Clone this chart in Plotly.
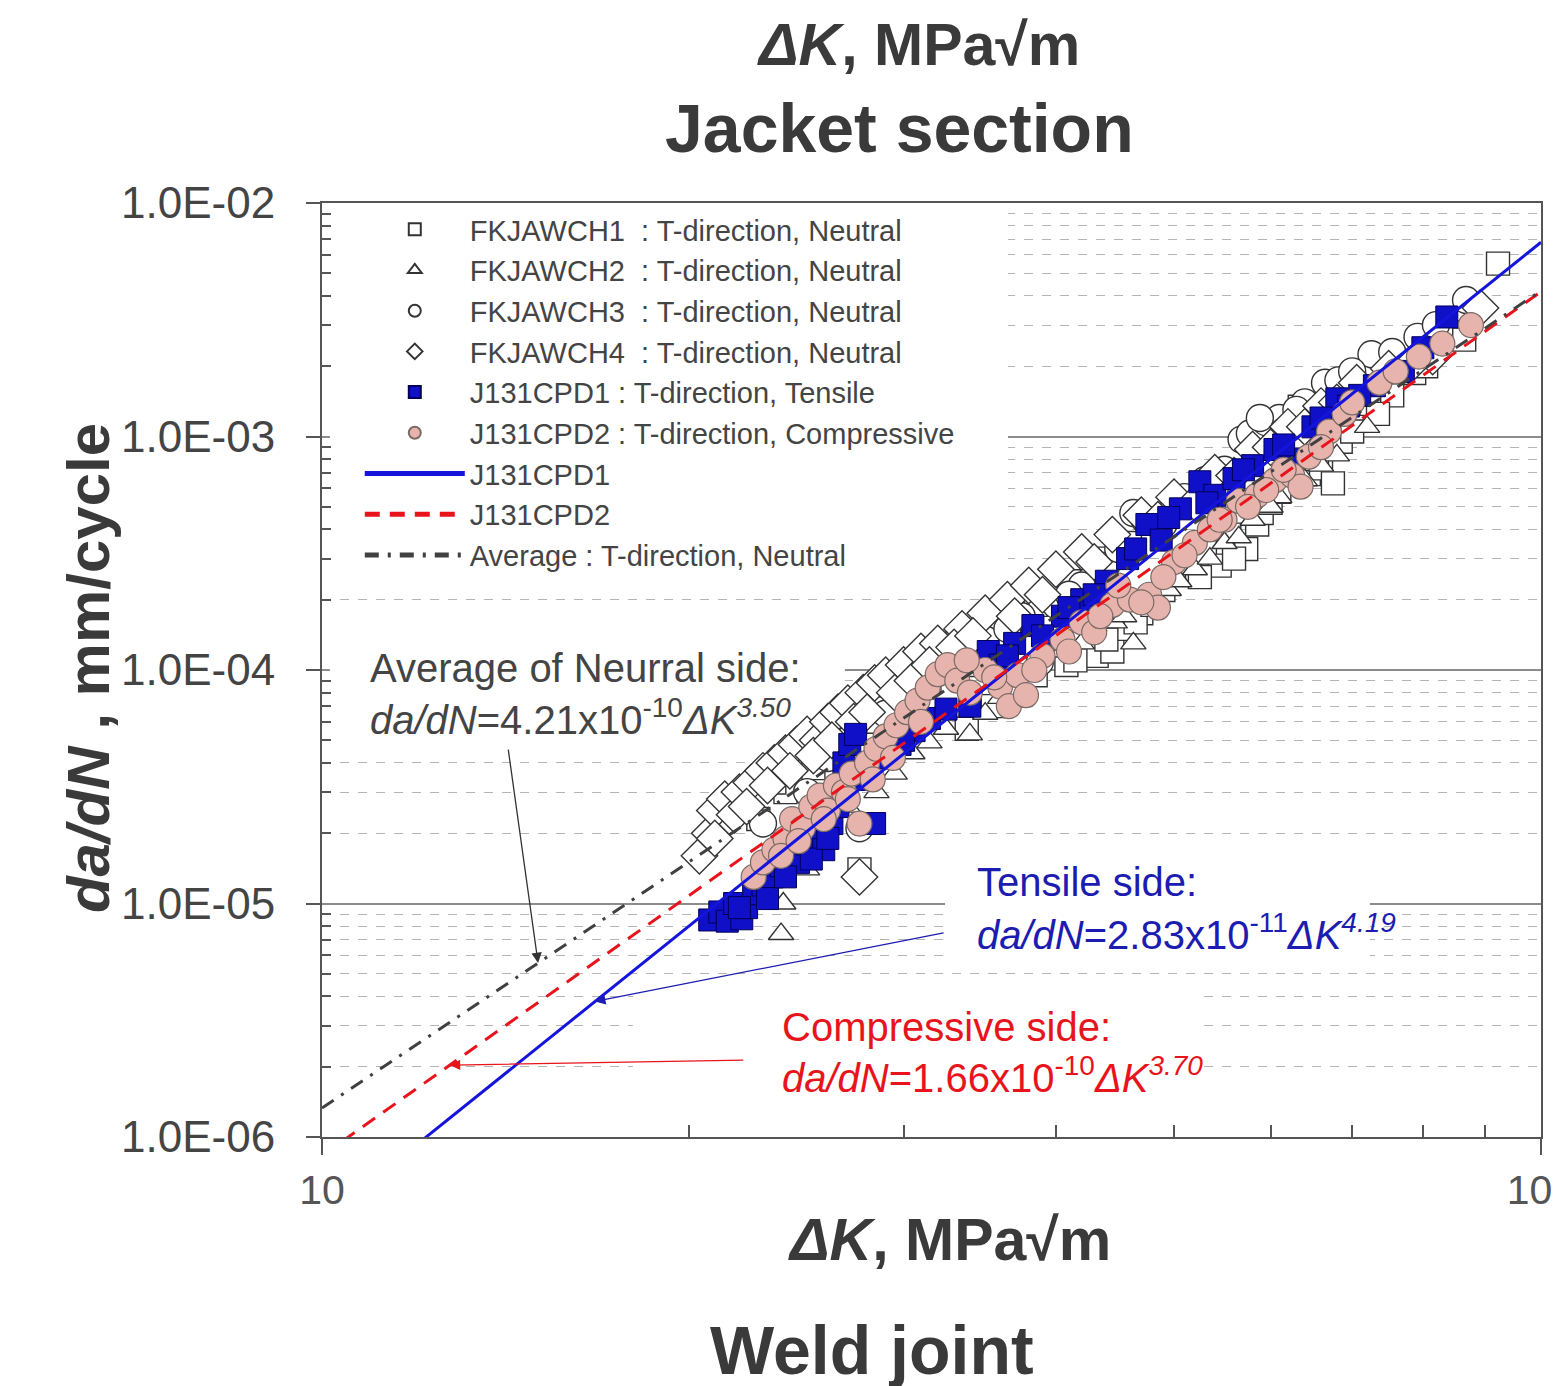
import math
import plotly.graph_objects as go

# --- data (ΔK in MPa√m, da/dN in mm/cycle) ---
fk1_dk = [22.8, 24.0, 25.3, 26.5, 27.6, 28.6, 30.0, 31.5, 33.2, 33.8, 34.5, 36.0, 37.5, 39.8, 40.8,
          42.2, 43.2, 44.5, 45.5, 47.0, 49.0, 50.0, 51.5, 53.0, 54.5, 55.5, 57.3, 58.5, 59.0, 60.0,
          63.4, 64.5, 66.0, 67.5, 68.5, 72.6, 75.5, 78.7, 83.7, 92.2,
          35.5, 37.0, 38.5, 41.5, 44.0, 46.5, 48.0, 52.5, 56.0, 61.0, 65.5, 70.0, 73.5, 80.5, 86.5,
          23.5, 26.0, 29.0, 32.0, 35.0, 38.5, 41.0, 43.5, 46.0]
fk1_dadn = [2.3e-5, 3.0e-5, 3.8e-5, 4.6e-5, 1.4e-5, 6.0e-5, 7.5e-5, 9.0e-5, 1.3e-4, 5.6e-5, 1.05e-4, 1.4e-4, 1.65e-4, 1.25e-4, 1.05e-4,
            1.3e-4, 1.15e-4, 1.2e-4, 1.5e-4, 1.75e-4, 2.2e-4, 2.6e-4, 2.9e-4, 3.2e-4, 2.8e-4, 3.8e-4, 3.3e-4, 4.2e-4, 4.7e-4, 5.2e-4,
            1.34e-3, 6.9e-4, 7.3e-4, 6.3e-4, 9.5e-4, 1.38e-3, 1.5e-3, 1.87e-3, 2.8e-3, 5.5e-3,
            7.0e-5, 8.2e-5, 9.5e-5, 1.1e-4, 1.35e-4, 1.6e-4, 1.9e-4, 2.5e-4, 3.0e-4, 5.8e-4, 8.0e-4, 1.05e-3, 1.25e-3, 2.0e-3, 2.6e-3,
            3.3e-5, 5.2e-5, 8.6e-5, 1.12e-4, 1.55e-4, 1.9e-4, 2.4e-4, 3.0e-4, 3.5e-4]

fk2_dk = [23.8, 23.9, 25.0, 26.0, 28.5, 30.5, 32.5, 34.0, 36.0, 38.0, 40.5, 43.0, 44.7, 46.3, 48.0,
          49.5, 52.0, 55.0, 58.0, 61.0, 64.0, 68.0,
          27.0, 29.5, 31.5, 35.0, 42.0, 45.5, 50.5, 53.5, 56.5, 60.0, 66.0, 72.0]
fk2_dadn = [7.4e-6, 1.0e-5, 1.4e-5, 2.3e-5, 3.0e-5, 4.4e-5, 5.6e-5, 5.3e-5, 7.6e-5, 1.0e-4, 1.2e-4, 1.55e-4, 1.6e-4, 1.3e-4, 2.0e-4,
            2.2e-4, 2.7e-4, 3.5e-4, 4.4e-4, 5.5e-4, 6.5e-4, 8.3e-4,
            2.6e-5, 3.6e-5, 4.9e-5, 6.5e-5, 1.3e-4, 1.7e-4, 2.4e-4, 3.0e-4, 3.7e-4, 5.0e-4, 7.5e-4, 1.1e-3]

fk3_dk = [25.0, 27.0, 27.6, 29.0, 30.5, 32.0, 33.5, 35.0, 36.5, 38.8, 40.0, 42.0, 44.0, 46.3, 47.3,
          49.0, 51.0, 53.0, 55.0, 56.8, 57.7, 59.5, 61.0, 64.0, 66.5, 68.2, 72.6, 79.2, 86.8,
          23.0, 26.0, 31.0, 34.0, 37.5, 41.0, 45.0, 50.0, 54.0, 58.8, 61.5, 63.0, 70.0, 75.5, 82.0]
fk3_dadn = [3.0e-5, 5.0e-5, 2.1e-5, 6.5e-5, 8.0e-5, 1.0e-4, 1.2e-4, 1.35e-4, 1.5e-4, 1.08e-4, 1.9e-4, 2.3e-4, 2.8e-4, 4.7e-4, 4.4e-4,
            4.2e-4, 5.5e-4, 6.5e-4, 7.2e-4, 9.7e-4, 1.03e-3, 1.15e-3, 1.2e-3, 1.4e-3, 1.7e-3, 1.74e-3, 2.25e-3, 2.67e-3, 3.84e-3,
            2.2e-5, 4.2e-5, 9.5e-5, 1.25e-4, 1.7e-4, 2.1e-4, 3.3e-4, 5.0e-4, 6.0e-4, 1.2e-3, 1.05e-3, 1.3e-3, 1.9e-3, 2.3e-3, 3.0e-3]

fk4_dk = [20.4, 20.8, 21.0, 21.4, 21.8, 22.0, 22.5, 23.0, 23.5, 24.0, 24.5, 25.0, 25.5, 26.0, 26.5,
          27.0, 27.6, 27.8, 28.4, 29.0, 30.0, 31.0, 32.0, 33.5, 35.0, 36.5, 38.0, 40.0, 42.0, 44.5,
          47.0, 50.0, 54.0, 58.0, 62.0, 66.0, 70.6, 75.0, 81.5, 89.2,
          21.0, 22.3, 23.2, 24.2, 25.3, 26.2, 27.3, 28.0, 29.5, 30.5, 31.5, 33.0, 34.2, 37.0, 39.0,
          43.0, 48.5, 52.0, 56.0, 60.0, 64.0, 68.0, 78.0]
fk4_dadn = [1.6e-5, 2.0e-5, 2.5e-5, 2.8e-5, 2.4e-5, 3.0e-5, 3.3e-5, 3.7e-5, 4.0e-5, 4.4e-5, 4.8e-5, 5.3e-5, 5.0e-5, 6.0e-5, 6.6e-5,
            7.2e-5, 1.3e-5, 8.0e-5, 8.8e-5, 9.5e-5, 1.05e-4, 1.2e-4, 1.3e-4, 1.5e-4, 1.75e-4, 2.0e-4, 2.3e-4, 2.7e-4, 3.2e-4, 3.8e-4,
            4.6e-4, 5.5e-4, 7.0e-4, 8.8e-4, 1.1e-3, 1.35e-3, 1.7e-3, 1.95e-3, 2.2e-3, 3.55e-3,
            1.9e-5, 2.6e-5, 3.2e-5, 3.7e-5, 4.3e-5, 5.0e-5, 6.0e-5, 6.6e-5, 8.0e-5, 9.0e-5, 1.05e-4, 1.25e-4, 1.4e-4, 1.7e-4, 2.1e-4,
            2.9e-4, 4.4e-4, 5.2e-4, 6.8e-4, 9.0e-4, 1.1e-3, 1.4e-3, 2.0e-3]

j1_dk = [20.8, 21.2, 21.5, 21.8, 22.1, 22.3, 22.6, 23.0, 23.4, 23.8, 24.2, 24.6, 25.0, 25.4, 25.8,
         26.2, 26.5, 26.8, 27.1, 27.4, 27.8, 28.4, 29.0, 29.8, 30.6, 31.5, 34.0, 35.2, 36.0, 37.0,
         38.3, 40.5, 42.0, 44.0, 45.8, 47.5, 48.8, 50.6, 52.5, 54.0, 56.0, 58.0, 60.5, 62.5, 65.0,
         68.0, 69.5, 73.0, 77.1, 83.7,
         22.0, 23.2, 24.0, 25.2, 26.0, 30.0, 32.5, 36.5, 39.0, 41.0, 43.0, 46.5, 49.5, 53.2, 57.0,
         61.5, 66.0, 71.0, 80.0]
j1_dadn = [8.5e-6, 9.2e-6, 8.4e-6, 1.0e-5, 8.6e-6, 9.6e-6, 1.1e-5, 1.2e-5, 1.3e-5, 1.45e-5, 1.6e-5, 1.5e-5, 1.8e-5, 2.0e-5, 1.7e-5,
           2.2e-5, 2.6e-5, 4.0e-5, 4.8e-5, 5.3e-5, 3.4e-5, 2.2e-5, 4.2e-5, 4.8e-5, 5.5e-5, 6.2e-5, 7.0e-5, 1.2e-4, 1.05e-4, 1.3e-4,
           1.55e-4, 1.7e-4, 2.0e-4, 2.4e-4, 3.0e-4, 4.2e-4, 3.6e-4, 4.9e-4, 6.4e-4, 5.6e-4, 6.6e-4, 7.5e-4, 8.8e-4, 8.0e-4, 1.1e-3,
           1.45e-3, 1.35e-3, 1.65e-3, 1.9e-3, 3.25e-3,
           9.6e-6, 1.05e-5, 1.3e-5, 1.55e-5, 1.9e-5, 5.0e-5, 6.8e-5, 1.15e-4, 1.4e-4, 1.85e-4, 2.1e-4, 3.3e-4, 4.5e-4, 5.2e-4, 7.2e-4,
           9.2e-4, 1.2e-3, 1.5e-3, 2.4e-3]

j2_dk = [22.6, 23.0, 23.5, 24.0, 24.3, 24.8, 25.2, 25.6, 26.0, 26.4, 26.8, 27.2, 27.6, 28.0, 28.5,
         29.0, 29.6, 30.2, 30.8, 31.4, 32.0, 32.6, 33.2, 34.0, 35.0, 36.0, 36.6, 37.2, 37.8, 39.0,
         40.5, 42.0, 43.0, 44.5, 46.0, 47.7, 48.5, 50.0, 52.0, 53.5, 55.0, 56.5, 58.5, 60.5, 62.5,
         63.5, 67.0, 69.0, 70.0, 73.7, 79.4, 87.6,
         23.8, 24.6, 25.8, 27.0, 28.3, 29.4, 31.0, 33.8, 35.6, 38.4, 41.0, 43.5, 45.0, 47.0, 49.0,
         51.0, 54.5, 57.5, 59.5, 61.5, 64.5, 66.0, 76.0, 83.0]
j2_dadn = [1.3e-5, 1.5e-5, 1.7e-5, 1.9e-5, 2.3e-5, 2.1e-5, 2.6e-5, 2.9e-5, 2.5e-5, 3.2e-5, 3.0e-5, 3.6e-5, 2.2e-5, 4.0e-5, 4.6e-5,
           5.2e-5, 5.8e-5, 6.6e-5, 7.4e-5, 8.4e-5, 9.6e-5, 1.05e-4, 9.0e-5, 8.0e-5, 1.0e-4, 8.5e-5, 7.0e-5, 9.5e-5, 7.8e-5, 1.15e-4,
           1.35e-4, 1.6e-4, 1.45e-4, 1.9e-4, 2.0e-4, 2.1e-4, 1.85e-4, 2.9e-4, 3.5e-4, 4.0e-4, 4.4e-4, 5.3e-4, 5.6e-4, 6.5e-4, 6.8e-4,
           6.1e-4, 1.05e-3, 1.25e-3, 1.4e-3, 1.7e-3, 2.2e-3, 3.0e-3,
           1.6e-5, 1.85e-5, 2.3e-5, 2.8e-5, 3.4e-5, 4.2e-5, 6.0e-5, 1.1e-4, 9.3e-5, 1.0e-4, 1.2e-4, 1.7e-4, 2.3e-4, 1.95e-4, 2.5e-4,
           3.1e-4, 4.4e-4, 5.0e-4, 5.9e-4, 7.2e-4, 8.2e-4, 9.0e-4, 1.9e-3, 2.5e-3]

# Paris-law fits quoted on the chart: da/dN = C * ΔK^m
fit_tensile = (2.83e-11, 4.19)
fit_compressive = (1.66e-10, 3.70)
fit_average = (4.21e-10, 3.50)
fit_dk = [10, 100]

y_tickvals = [1e-6, 1e-5, 1e-4, 1e-3, 1e-2]
y_ticktext = ["1.0E-06", "1.0E-05", "1.0E-04", "1.0E-03", "1.0E-02"]
x_tickvals = [10, 100]
x_ticktext = ["10", "100"]

FONT = "Arial, Liberation Sans, sans-serif"
GREY = "#444444"
DARK = "#3a3a3a"
BLUE_TXT = "#1c1cb0"
RED = "#e8141c"
NB = "\u00a0"


def power_law(coef, dk):
    c, m = coef
    return [c * k ** m for k in dk]


fig = go.Figure()

open_style = dict(color="white", line=dict(color="#333333", width=1.4))
fig.add_trace(go.Scatter(x=fk1_dk, y=fk1_dadn, mode="markers", name=f"FKJAWCH1{NB} : T-direction, Neutral",
                         marker=dict(symbol="square", size=23, **open_style)))
fig.add_trace(go.Scatter(x=fk2_dk, y=fk2_dadn, mode="markers", name=f"FKJAWCH2{NB} : T-direction, Neutral",
                         marker=dict(symbol="triangle-up", size=22, **open_style)))
fig.add_trace(go.Scatter(x=fk3_dk, y=fk3_dadn, mode="markers", name=f"FKJAWCH3{NB} : T-direction, Neutral",
                         marker=dict(symbol="circle", size=27, **open_style)))
fig.add_trace(go.Scatter(x=fk4_dk, y=fk4_dadn, mode="markers", name=f"FKJAWCH4{NB} : T-direction, Neutral",
                         marker=dict(symbol="diamond", size=28, **open_style)))
fig.add_trace(go.Scatter(x=j1_dk, y=j1_dadn, mode="markers", name="J131CPD1 : T-direction, Tensile",
                         marker=dict(symbol="square", size=22, color="#1010c8",
                                     line=dict(color="#00005a", width=1))))
fig.add_trace(go.Scatter(x=j2_dk, y=j2_dadn, mode="markers", name="J131CPD2 : T-direction, Compressive",
                         marker=dict(symbol="circle", size=25, color="#e6b4ac",
                                     line=dict(color="#7a6a66", width=1.2))))

fig.add_trace(go.Scatter(x=fit_dk, y=power_law(fit_tensile, fit_dk), mode="lines", name="J131CPD1",
                         line=dict(color="#1414dc", width=3)))
fig.add_trace(go.Scatter(x=fit_dk, y=power_law(fit_compressive, fit_dk), mode="lines", name="J131CPD2",
                         line=dict(color=RED, width=3, dash="15px,10px")))
fig.add_trace(go.Scatter(x=fit_dk, y=power_law(fit_average, fit_dk), mode="lines",
                         name="Average : T-direction, Neutral",
                         line=dict(color="#404040", width=3, dash="14px,9px,3px,9px")))

# white panels behind the legend and the equation boxes, hiding the grid there
# (ΔK range, da/dN range)
panels = [
    ((10.15, 36.54), (2.48e-4, 9.8e-3)),
    ((10.15, 26.85), (4.46e-5, 1.72e-4)),
    ((32.44, 72.4), (5.46e-6, 1.536e-5)),
    ((17.99, 52.53), (1.44e-6, 4.48e-6)),
]
for (x0, x1), (y0, y1) in panels:
    fig.add_shape(type="rect", xref="x", yref="y", x0=x0, x1=x1, y0=y0, y1=y1,
                  fillcolor="white", line=dict(width=0), layer="between")

# equation labels, one annotation per line
eq_lines = [
    (0.0377, 0.5021, "Average of Neurral side:", GREY),
    (0.0377, 0.4497, "<i>da/dN</i>=4.21x10<sup>-10</sup><i>ΔK</i><sup><i>3.50</i></sup>", GREY),
    (0.5357, 0.2730, "Tensile side:", BLUE_TXT),
    (0.5357, 0.2195, "<i>da/dN</i>=2.83x10<sup>-11</sup><i>ΔK</i><sup><i>4.19</i></sup>", BLUE_TXT),
    (0.3757, 0.1178, "Compressive side:", RED),
    (0.3757, 0.0664, "<i>da/dN</i>=1.66x10<sup>-10</sup><i>ΔK</i><sup><i>3.70</i></sup>", RED),
]
for x, y, txt, col in eq_lines:
    fig.add_annotation(xref="paper", yref="paper", x=x, y=y, xanchor="left", yanchor="middle",
                       showarrow=False, text=txt, font=dict(family=FONT, size=40, color=col))

# arrows pointing at the fit lines
arrows = [
    (15.04, fit_average, -30, -215, "#333333"),
    (16.75, fit_tensile, 350, -69, BLUE_TXT),
    (12.73, fit_compressive, 295, -5, RED),
]
for dk, fit, ax, ay, col in arrows:
    fig.add_annotation(x=math.log10(dk), y=math.log10(power_law(fit, [dk])[0]), text="",
                       showarrow=True, ax=ax, ay=ay, arrowhead=2, arrowsize=1.6, arrowwidth=1.3,
                       arrowcolor=col, standoff=0)

title_font = dict(family=FONT, size=59, color=DARK)
big_font = dict(family=FONT, size=68, color=DARK)
headings = [
    (0.489, 1.169, "<b><i>ΔK</i>, MPa√m</b>", title_font, 0),
    (0.474, 1.080, "<b>Jacket section</b>", big_font, 0),
    (0.515, -0.110, "<b><i>ΔK</i>, MPa√m</b>", title_font, 0),   # x-axis title
    (0.451, -0.228, "<b>Weld joint</b>", big_font, 0),
    (-0.192, 0.502, "<b><i>da/dN</i> , mm/cycle</b>", dict(family=FONT, size=60, color=DARK), -90),
]
for x, y, txt, fnt, ang in headings:
    fig.add_annotation(xref="paper", yref="paper", x=x, y=y, xanchor="center", yanchor="middle",
                       showarrow=False, text=txt, font=fnt, textangle=ang)

# the page body adds an 8px offset; margins compensate so the plot box sits at 322..1541 x 203..1137
fig.update_layout(
    width=1553, height=1378,
    margin=dict(l=314, r=20, t=195, b=249, autoexpand=False),
    paper_bgcolor="white", plot_bgcolor="white",
    font=dict(family=FONT, color=GREY),
    showlegend=True,
    legend=dict(x=0.031, y=0.999, xanchor="left", yanchor="top", bgcolor="rgba(0,0,0,0)",
                font=dict(family=FONT, size=29, color=GREY), itemwidth=100, itemsizing="constant",
                tracegroupgap=0),
    xaxis=dict(type="log", range=[1, 2], tickmode="array", tickvals=x_tickvals, ticktext=x_ticktext,
               showgrid=False, zeroline=False, showline=True, linecolor="#555555", linewidth=2,
               mirror=True, ticks="outside", ticklen=16, tickwidth=1.5, tickcolor="#555555",
               ticklabelstandoff=0, ticklabeloverflow="allow",
               tickfont=dict(family=FONT, size=41, color="#555555"),
               minor=dict(tickmode="array", tickvals=[m * 10 for m in range(2, 10)], ticks="inside",
                          ticklen=12, tickwidth=1.5, tickcolor="#555555", showgrid=False)),
    yaxis=dict(type="log", range=[-6, -2], tickmode="array", tickvals=y_tickvals, ticktext=y_ticktext,
               showgrid=True, gridcolor="#8c8c8c", gridwidth=1.5, zeroline=False,
               showline=True, linecolor="#555555", linewidth=2, mirror=True,
               ticks="outside", ticklen=14, tickwidth=1.5, tickcolor="#555555",
               ticklabelstandoff=22, tickfont=dict(family=FONT, size=44, color=GREY),
               minor=dict(tickmode="array",
                          tickvals=[m * 10.0 ** e for e in range(-6, -2) for m in range(2, 10)],
                          ticks="inside", ticklen=9, tickwidth=1.5, tickcolor="#555555",
                          showgrid=True, gridcolor="#b4b4b4", gridwidth=1, griddash="dash")),
)

fig.write_html("out.html")
